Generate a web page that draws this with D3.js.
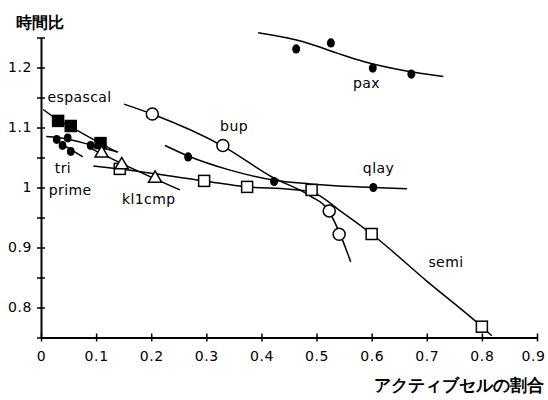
<!DOCTYPE html>
<html>
<head>
<meta charset="utf-8">
<script src="https://cdn.jsdelivr.net/npm/d3@7"></script>
<style>
  body { margin: 0; background: #fff; }
  text { font-family: "DejaVu Sans", "Liberation Sans", sans-serif; fill: #000; }
</style>
</head>
<body>
<svg id="chart" width="548" height="400"></svg>
<script>
// tick values and labels
var xTicks = [0, 0.1, 0.2, 0.3, 0.4, 0.5, 0.6, 0.7, 0.8, 0.9];
var yTicks = [0.75, 0.8, 0.85, 0.9, 0.95, 1, 1.05, 1.1, 1.15, 1.2, 1.25];
var yLabels = [0.8, 0.9, 1, 1.1, 1.2];

// measured points (x = active cell ratio, y = time ratio)
var paxPts = [[0.463, 1.231], [0.526, 1.241], [0.602, 1.199], [0.672, 1.189]];
var qlayPts = [[0.267, 1.051], [0.423, 1.010], [0.603, 1.000]];
var bupPts = [[0.202, 1.1225], [0.330, 1.070], [0.523, 0.961], [0.541, 0.922]];
var semiPts = [[0.143, 1.031], [0.296, 1.011], [0.374, 1.001], [0.491, 0.996], [0.600, 0.9225], [0.800, 0.768]];
var espascalPts = [[0.031, 1.111], [0.054, 1.1025], [0.108, 1.074]];
var triPts = [[0.0285, 1.080], [0.0485, 1.0825], [0.090, 1.070]];
var primePts = [[0.039, 1.070], [0.054, 1.060]];
var kl1cmpPts = [[0.110, 1.057], [0.1465, 1.0375], [0.207, 1.015]];

// fitted curves
var paxFit = [[0.394, 1.258], [0.476, 1.243], [0.537, 1.224], [0.585, 1.210], [0.658, 1.195], [0.730, 1.185]];
var qlayFit = [[0.225, 1.070], [0.267, 1.0525], [0.343, 1.029], [0.421, 1.0125], [0.488, 1.006], [0.6025, 1.000], [0.664, 0.998]];
var bupFit = [[0.1506, 1.139], [0.2015, 1.1225], [0.330, 1.069], [0.419, 1.0175], [0.488, 0.986], [0.521, 0.9625], [0.541, 0.926], [0.562, 0.876]];
var semiFit = [[0.095, 1.036], [0.143, 1.031], [0.296, 1.011], [0.374, 1.001], [0.452, 0.997], [0.491, 0.9925], [0.546, 0.959], [0.600, 0.9225], [0.700, 0.844], [0.800, 0.768], [0.818, 0.753]];
var espascalFit = [[0.004, 1.130], [0.031, 1.1125], [0.054, 1.101], [0.107, 1.074], [0.138, 1.059]];
var triFit = [[0.0096, 1.085], [0.047, 1.081], [0.090, 1.071], [0.140, 1.059]];
var primeFit = [[0.031, 1.076], [0.076, 1.051]];
var kl1cmpFit = [[0.0926, 1.064], [0.172, 1.029], [0.252, 0.996]];

var labels = [
  {text: "espascal", x: 0.012, y: 1.142},
  {text: "tri", x: 0.025, y: 1.025},
  {text: "prime", x: 0.014, y: 0.988},
  {text: "kl1cmp", x: 0.147, y: 0.973},
  {text: "bup", x: 0.325, y: 1.094},
  {text: "qlay", x: 0.584, y: 1.025},
  {text: "pax", x: 0.566, y: 1.166},
  {text: "semi", x: 0.703, y: 0.868}
];

var svg = d3.select('#chart');

var xScale = d3.scaleLinear().domain([0, 0.9]).range([41, 537]);
var yScale = d3.scaleLinear().domain([0.75, 1.25]).range([337.5, 37.5]);

// axes - ticks cross the axis line
var xAxis = d3.axisBottom(xScale).tickValues(xTicks).tickSize(0).tickPadding(14)
  .tickFormat(function(d) { return d === 0 ? "0" : d3.format(".1f")(d); });
var yAxis = d3.axisLeft(yScale).tickValues(yTicks).tickSize(0).tickPadding(9)
  .tickFormat(function(d) {
    var hit = yLabels.find(function(v) { return Math.abs(v - d) < 1e-6; });
    return hit === undefined ? "" : String(hit);
  });

var gx = svg.append('g').attr('transform', 'translate(0,' + yScale(0.75) + ')').call(xAxis);
var gy = svg.append('g').attr('transform', 'translate(' + xScale(0) + ',0)').call(yAxis);

[gx, gy].forEach(function(g) {
  g.select('.domain').attr('stroke', '#000').attr('stroke-width', 2);
  g.selectAll('text')
    .attr('font-family', '"DejaVu Sans", sans-serif')
    .attr('font-size', 14).attr('letter-spacing', 0.6).attr('fill', '#000');
});
// last x label sits against the right edge
gx.selectAll('.tick text').filter(function(d) { return d === 0.9; }).attr('dx', -4);
gx.selectAll('.tick line').attr('y1', -4).attr('y2', 4).attr('stroke', '#000').attr('stroke-width', 1.5);
gy.selectAll('.tick line').attr('x1', -4).attr('x2', 4).attr('stroke', '#000').attr('stroke-width', 1.5);

// titles
svg.append('text').attr('x', 16).attr('y', 28)
  .attr('font-family', '"Noto Sans CJK JP", sans-serif')
  .attr('font-weight', 'bold').attr('font-size', 16).text('時間比');
svg.append('text').attr('x', 544).attr('y', 391).attr('text-anchor', 'end')
  .attr('font-family', '"Noto Sans CJK JP", sans-serif')
  .attr('font-weight', 'bold').attr('font-size', 17).text('アクティブセルの割合');

// fitted lines
var line = d3.line()
  .curve(d3.curveMonotoneX)
  .x(function(d) { return xScale(d[0]); })
  .y(function(d) { return yScale(d[1]); });

[paxFit, qlayFit, bupFit, semiFit, espascalFit, triFit, primeFit, kl1cmpFit].forEach(function(f) {
  svg.append('path').datum(f)
    .attr('d', line)
    .style('fill', 'none')
    .style('stroke', '#000')
    .style('stroke-width', 1.5);
});

// markers
function dots(data, r) {
  svg.append('g').selectAll('ellipse').data(data).enter().append('ellipse')
    .attr('cx', function(d) { return xScale(d[0]); })
    .attr('cy', function(d) { return yScale(d[1]); })
    .attr('rx', r).attr('ry', r + 0.6)
    .attr('fill', '#000');
}
function circles(data) {
  svg.append('g').selectAll('circle').data(data).enter().append('circle')
    .attr('cx', function(d) { return xScale(d[0]); })
    .attr('cy', function(d) { return yScale(d[1]); })
    .attr('r', 6)
    .attr('fill', '#fff').attr('stroke', '#000').attr('stroke-width', 1.5);
}
function squares(data, s, filled) {
  svg.append('g').selectAll('rect').data(data).enter().append('rect')
    .attr('x', function(d) { return xScale(d[0]) - s / 2; })
    .attr('y', function(d) { return yScale(d[1]) - s / 2; })
    .attr('width', s).attr('height', s)
    .attr('fill', filled ? '#000' : '#fff')
    .attr('stroke', '#000').attr('stroke-width', 1.5);
}
function triangles(data) {
  var tri = d3.symbol().type(d3.symbolTriangle).size(75);
  svg.append('g').selectAll('path').data(data).enter().append('path')
    .attr('d', tri)
    .attr('transform', function(d) { return 'translate(' + xScale(d[0]) + ',' + yScale(d[1]) + ')'; })
    .attr('fill', '#fff').attr('stroke', '#000').attr('stroke-width', 1.5);
}

dots(paxPts, 4);
dots(qlayPts, 4);
dots(triPts, 3.8);
dots(primePts, 3.8);
circles(bupPts);
squares(semiPts, 11, false);
squares(espascalPts, 11, true);
triangles(kl1cmpPts);

// series names
svg.append('g').selectAll('text').data(labels).enter().append('text')
  .attr('x', function(d) { return xScale(d.x); })
  .attr('y', function(d) { return yScale(d.y); })
  .attr('font-size', 14)
  .attr('letter-spacing', 0.4)
  .text(function(d) { return d.text; });
</script>
</body>
</html>
